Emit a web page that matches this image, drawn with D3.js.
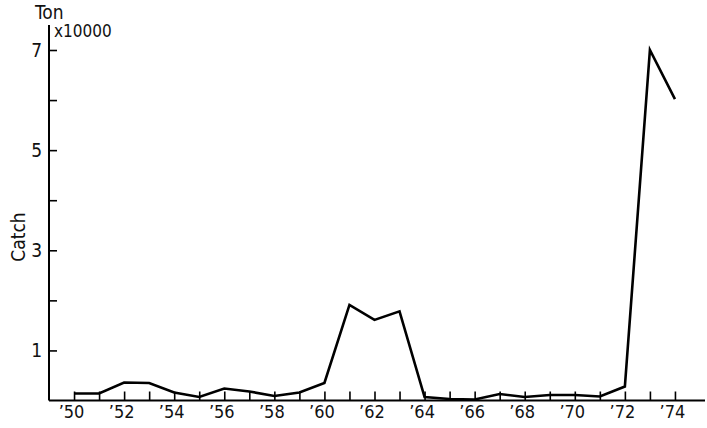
<!DOCTYPE html>
<html>
<head>
<meta charset="utf-8">
<script src="https://cdn.jsdelivr.net/npm/d3@7"></script>
<style>
  body { margin: 0; background: #fff; }
  text { font-family: "DejaVu Sans Condensed", "Liberation Sans", sans-serif; fill: #111; }
</style>
</head>
<body>
<div id="chart"></div>
<script>
const years = d3.range(1950, 1975);
// catch, in units of 10000 ton
const catchValues = [0.14, 0.14, 0.36, 0.35, 0.16, 0.07, 0.24, 0.18, 0.09, 0.16,
  0.35, 1.91, 1.61, 1.78, 0.07, 0.03, 0.02, 0.13, 0.07, 0.11,
  0.11, 0.08, 0.28, 7.0, 6.02];
const xLabelYears = [1950, 1952, 1954, 1956, 1958, 1960, 1962, 1964, 1966, 1968, 1970, 1972, 1974];
const yTicks = [1, 2, 3, 4, 5, 6, 7];
const yLabels = [1, 3, 5, 7];

const size = { width: 707, height: 428 };
const svg = d3.select("#chart").append("svg")
  .attr("width", size.width)
  .attr("height", size.height);

const x = d3.scaleLinear().domain([1949, 1975.2]).range([49, 705]);
const y = d3.scaleLinear().domain([0, 7]).range([400.5, 50]);

// x axis, ticks point up
const xAxis = d3.axisBottom(x)
  .tickValues(years)
  .tickSize(-9)
  .tickSizeOuter(0)
  .tickPadding(5)
  .tickFormat((d) => xLabelYears.includes(d) ? "\u2019" + String(d).slice(2) : "");

const gx = svg.append("g")
  .attr("transform", `translate(0,${y(0)})`)
  .call(xAxis);
gx.select(".domain").attr("stroke-width", 2).attr("d", `M${x(1949)},0H${x(1975.2)}`);
gx.selectAll(".tick line").attr("stroke-width", 1.6);
gx.selectAll(".tick text").style("font-size", "18px").attr("dx", "-3");

// y axis, ticks point right
const yAxis = d3.axisLeft(y)
  .tickValues(yTicks)
  .tickSize(-8)
  .tickSizeOuter(0)
  .tickPadding(7)
  .tickFormat((d) => yLabels.includes(d) ? d : "");

const gy = svg.append("g")
  .attr("transform", `translate(${x(1949)},0)`)
  .call(yAxis);
gy.select(".domain").attr("stroke-width", 2).attr("d", `M0,${y(0)}V${y(7.5)}`);
gy.selectAll(".tick line").attr("stroke-width", 1.6);
gy.selectAll(".tick text").style("font-size", "19px");

// data line
const line = d3.line()
  .x((d, i) => x(years[i]))
  .y((d) => y(d));

svg.append("path")
  .datum(catchValues)
  .attr("d", line)
  .attr("fill", "none")
  .attr("stroke", "#000")
  .attr("stroke-width", 2.6)
  .attr("stroke-linejoin", "miter");

// labels
svg.append("text")
  .attr("x", 35)
  .attr("y", 19)
  .style("font-size", "19px")
  .text("Ton");

svg.append("text")
  .attr("x", 54)
  .attr("y", 37)
  .style("font-size", "17px")
  .text("x10000");

svg.append("text")
  .attr("transform", `translate(25,237) rotate(-90)`)
  .attr("text-anchor", "middle")
  .style("font-size", "19px")
  .text("Catch");
</script>
</body>
</html>
